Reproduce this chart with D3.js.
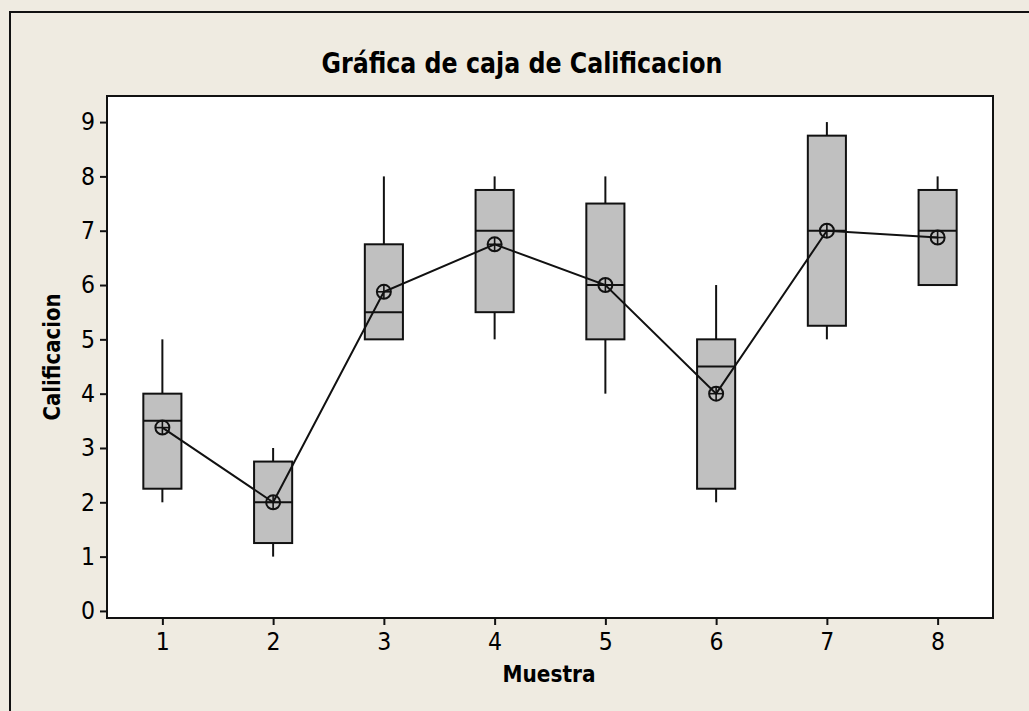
<!DOCTYPE html>
<html>
<head>
<meta charset="utf-8">
<script src="https://cdn.jsdelivr.net/npm/d3@7"></script>
<style>
  html, body { margin: 0; padding: 0; background: #EFEBE1; }
  svg { display: block; }
  .tick text { font-family: "DejaVu Sans Condensed", "DejaVu Sans", sans-serif; font-size: 24.5px; fill: #000; }
</style>
</head>
<body>
<svg id="chart" width="1029" height="711"></svg>
<script>
// Grade distribution per sample
const muestras = [1, 2, 3, 4, 5, 6, 7, 8];
const minimos  = [2, 1, 5, 5, 4, 2, 5, 6];
const q1       = [2.25, 1.25, 5, 5.5, 5, 2.25, 5.25, 6];
const medianas = [3.5, 2, 5.5, 7, 6, 4.5, 7, 7];
const q3       = [4, 2.75, 6.75, 7.75, 7.5, 5, 8.75, 7.75];
const maximos  = [5, 3, 8, 8, 8, 6, 9, 8];
const medias   = [3.375, 2, 5.875, 6.75, 6, 4, 7, 6.875];
const yTicks   = [0, 1, 2, 3, 4, 5, 6, 7, 8, 9];

const titulo = "Gráfica de caja de Calificacion";
const etiquetaX = "Muestra";
const etiquetaY = "Calificacion";

const svg = d3.select("#chart");
const fontFam = '"DejaVu Sans Condensed", "DejaVu Sans", sans-serif';

// Outer frame of the graph window
svg.append("rect")
  .attr("x", 10).attr("y", 12)
  .attr("width", 1060).attr("height", 760)
  .attr("fill", "#EFEBE1")
  .attr("stroke", "#111").attr("stroke-width", 2);

const plot = { left: 107, top: 96, right: 993, bottom: 618 };

const x = d3.scaleLinear().domain([0.5, 8.5]).range([plot.left, plot.right]);
const y = d3.scaleLinear().domain([-0.13, 9.48]).range([plot.bottom, plot.top]);

// Data region
svg.append("rect")
  .attr("x", plot.left).attr("y", plot.top)
  .attr("width", plot.right - plot.left).attr("height", plot.bottom - plot.top)
  .attr("fill", "#fff").attr("stroke", "#111").attr("stroke-width", 2);

// Axes
const yAxis = svg.append("g")
  .attr("transform", `translate(${plot.left},0)`)
  .call(d3.axisLeft(y).tickValues(yTicks).tickSize(7).tickPadding(5).tickFormat(d3.format("d")));
const xAxis = svg.append("g")
  .attr("transform", `translate(0,${plot.bottom})`)
  .call(d3.axisBottom(x).tickValues(muestras).tickSize(7).tickPadding(5).tickFormat(d3.format("d")));
[yAxis, xAxis].forEach(g => {
  g.select(".domain").remove();
  g.selectAll(".tick line").attr("stroke", "#111").attr("stroke-width", 2);
});
xAxis.selectAll(".tick text").attr("dy", "0.8em");

// Boxes
const halfW = 0.172;
const data = muestras.map((m, i) => ({
  m, min: minimos[i], q1: q1[i], med: medianas[i], q3: q3[i], max: maximos[i], mean: medias[i]
}));

const boxes = svg.append("g").selectAll("g").data(data).join("g");

// whiskers
boxes.append("line")
  .attr("x1", d => x(d.m)).attr("x2", d => x(d.m))
  .attr("y1", d => y(d.max)).attr("y2", d => y(d.q3))
  .attr("stroke", "#111").attr("stroke-width", 2);
boxes.append("line")
  .attr("x1", d => x(d.m)).attr("x2", d => x(d.m))
  .attr("y1", d => y(d.q1)).attr("y2", d => y(d.min))
  .attr("stroke", "#111").attr("stroke-width", 2);

boxes.append("rect")
  .attr("x", d => x(d.m - halfW))
  .attr("width", d => x(d.m + halfW) - x(d.m - halfW))
  .attr("y", d => y(d.q3))
  .attr("height", d => y(d.q1) - y(d.q3))
  .attr("fill", "#C0C0C0").attr("stroke", "#111").attr("stroke-width", 2);

boxes.append("line")
  .attr("x1", d => x(d.m - halfW)).attr("x2", d => x(d.m + halfW))
  .attr("y1", d => y(d.med)).attr("y2", d => y(d.med))
  .attr("stroke", "#111").attr("stroke-width", 2);

// Mean connect line
svg.append("path")
  .datum(data)
  .attr("fill", "none").attr("stroke", "#111").attr("stroke-width", 2)
  .attr("d", d3.line().x(d => x(d.m)).y(d => y(d.mean)));

// Mean symbols (circle with cross)
const r = 7;
const sym = svg.append("g").selectAll("g").data(data).join("g")
  .attr("transform", d => `translate(${x(d.m)},${y(d.mean)})`);
sym.append("circle").attr("r", r).attr("fill", "none").attr("stroke", "#111").attr("stroke-width", 2);
sym.append("line").attr("x1", -r).attr("x2", r).attr("stroke", "#111").attr("stroke-width", 1.6);
sym.append("line").attr("y1", -r).attr("y2", r).attr("stroke", "#111").attr("stroke-width", 1.6);

// Title and axis labels
svg.append("text")
  .attr("x", 522).attr("y", 73)
  .attr("text-anchor", "middle")
  .attr("font-family", fontFam).attr("font-weight", "bold").attr("font-size", 29)
  .attr("textLength", 401).attr("lengthAdjust", "spacingAndGlyphs")
  .text(titulo);

svg.append("text")
  .attr("x", 549).attr("y", 682)
  .attr("text-anchor", "middle")
  .attr("font-family", fontFam).attr("font-weight", "bold").attr("font-size", 23)
  .attr("textLength", 93).attr("lengthAdjust", "spacingAndGlyphs")
  .text(etiquetaX);

svg.append("text")
  .attr("transform", "translate(60,357) rotate(-90)")
  .attr("text-anchor", "middle")
  .attr("font-family", fontFam).attr("font-weight", "bold").attr("font-size", 23)
  .attr("textLength", 127).attr("lengthAdjust", "spacingAndGlyphs")
  .text(etiquetaY);
</script>
</body>
</html>
